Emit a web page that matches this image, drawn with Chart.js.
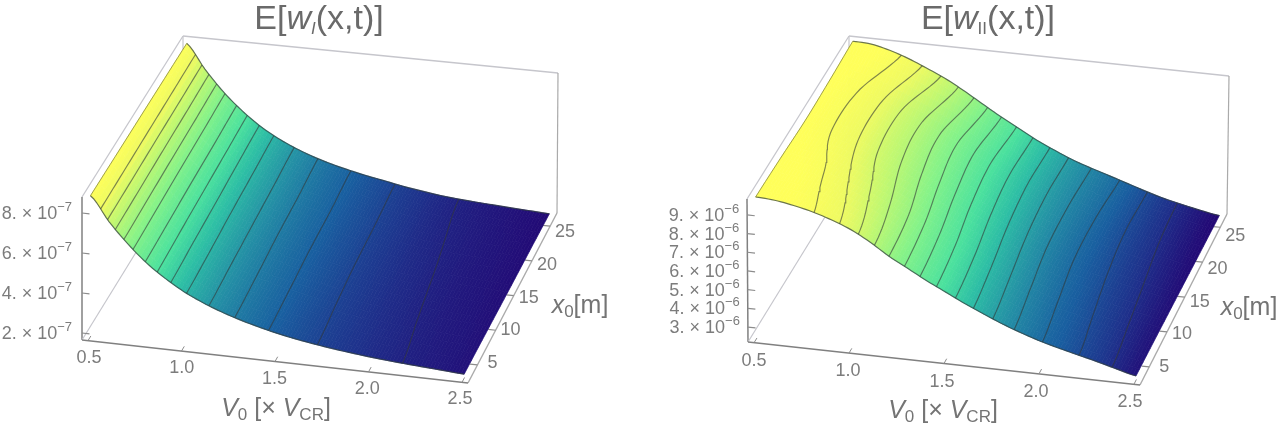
<!DOCTYPE html>
<html><head><meta charset="utf-8">
<style>
html,body{margin:0;padding:0;background:#fff;width:1280px;height:425px;overflow:hidden}
canvas{position:absolute;top:0;filter:blur(0.6px)}
#cI{left:0}#cII{left:640px}
</style>
<script src="https://cdn.jsdelivr.net/npm/chart.js@4"></script>
</head><body>
<canvas id="cI" width="640" height="425"></canvas>
<canvas id="cII" width="640" height="425"></canvas>
<script>
// ---- data ----
const v0Values = [0.5,0.6,0.7,0.8,0.9,1.0,1.1,1.2,1.3,1.4,1.5,1.6,1.7,1.8,1.9,2.0,2.1,2.2,2.3,2.4,2.5];
const x0Values = [3,9,15,21,26.4];
const v0Ticks = [0.5,1.0,1.5,2.0,2.5];
const x0Ticks = [5,10,15,20,25];

// E[w_I] in units of 1e-7, one list per x0
const wI_x3  = [8.7,7.5,6.5,5.65,4.98,4.42,3.98,3.62,3.32,3.07,2.85,2.67,2.52,2.39,2.28,2.18,2.1,2.03,1.97,1.91,1.85];
const wI_x9  = [8.68,7.48,6.46,5.61,4.93,4.38,3.94,3.58,3.29,3.04,2.83,2.65,2.49,2.36,2.24,2.15,2.07,2.0,1.94,1.89,1.83];
const wI_x15 = [8.66,7.45,6.42,5.57,4.89,4.33,3.9,3.54,3.25,3.01,2.8,2.63,2.46,2.33,2.21,2.12,2.04,1.97,1.91,1.86,1.8];
const wI_x21 = [8.64,7.43,6.39,5.54,4.84,4.29,3.86,3.51,3.22,2.99,2.78,2.61,2.44,2.3,2.17,2.08,2.01,1.95,1.89,1.84,1.78];
const wI_x26 = [8.62,7.4,6.35,5.5,4.8,4.25,3.82,3.47,3.19,2.96,2.76,2.59,2.41,2.27,2.14,2.05,1.98,1.92,1.86,1.81,1.76];
const wILevels = [8.1,7.6,7.15,6.7,6.25,5.7,5.25,4.8,4.35,3.85,3.4,2.95,2.5,2.05];
const wIZTicks = [2,4,6,8];

// E[w_II] in units of 1e-6, one list per x0
const wII_x3  = [9.78,9.72,9.55,9.32,9.0,8.6,8.05,7.4,6.85,6.3,5.8,5.3,4.85,4.42,4.05,3.72,3.45,3.2,2.95,2.68,2.43];
const wII_x9  = [9.72,9.58,9.4,9.05,8.7,8.28,7.8,7.28,6.72,6.18,5.68,5.18,4.72,4.3,3.94,3.62,3.36,3.1,2.86,2.62,2.4];
const wII_x15 = [9.62,9.42,9.12,8.78,8.35,7.95,7.5,7.02,6.5,5.98,5.5,5.02,4.58,4.18,3.83,3.52,3.26,3.0,2.78,2.56,2.36];
const wII_x21 = [9.68,9.45,9.18,8.78,8.32,7.88,7.38,6.88,6.38,5.88,5.4,4.94,4.52,4.16,3.82,3.5,3.2,2.94,2.71,2.49,2.31];
const wII_x26 = [9.78,9.73,9.5,9.17,8.75,8.3,7.75,7.15,6.55,6.0,5.45,4.98,4.55,4.2,3.88,3.55,3.22,2.92,2.68,2.46,2.28];
const wIILevels = [9.3,8.85,8.4,7.9,7.4,6.95,6.5,6.05,5.55,5.1,4.65,4.2,3.7,3.2,2.75];
const wIIZTicks = [3,4,5,6,7,8,9];

// ---- colour ramp ----
const ramp = [[0,35,5,115],[.08,30,50,140],[.17,25,95,160],[.28,35,140,165],[.4,45,190,165],[.5,75,225,158],[.65,130,242,138],[.8,195,248,112],[.9,238,250,98],[1,255,255,90]];
function colour(f){
  f=Math.max(0,Math.min(1,f));
  for(let i=1;i<ramp.length;i++){ if(f<=ramp[i][0]){
    const a=ramp[i-1],b=ramp[i],k=(f-a[0])/(b[0]-a[0]);
    return `rgb(${Math.round(a[1]+k*(b[1]-a[1]))},${Math.round(a[2]+k*(b[2]-a[2]))},${Math.round(a[3]+k*(b[3]-a[3]))})`;
  }}
  return 'rgb(255,255,90)';
}

// ---- helpers ----
function cr(a,s){
  const n=a.length-1, i=Math.min(n-1,Math.floor(s)), t=s-i;
  const p0=a[Math.max(0,i-1)],p1=a[i],p2=a[i+1],p3=a[Math.min(n,i+2)];
  return 0.5*((2*p1)+(-p0+p2)*t+(2*p0-5*p1+4*p2-p3)*t*t+(-p0+3*p1-3*p2+p3)*t*t*t);
}
function lin(a,s){const i=Math.min(a.length-2,Math.floor(s)),t=s-i;return a[i]+(a[i+1]-a[i])*t;}
function drawRuns(ctx,runs,x,y,align,color){
  ctx.save();ctx.textBaseline='alphabetic';ctx.textAlign='left';ctx.fillStyle=color;
  let w=0;
  for(const r of runs){ctx.font=`${r.i?'italic ':''}${r.s}px "Liberation Sans"`;w+=ctx.measureText(r.t).width;}
  let cx=align==='right'?x-w:align==='center'?x-w/2:x;
  for(const r of runs){ctx.font=`${r.i?'italic ':''}${r.s}px "Liberation Sans"`;ctx.fillText(r.t,cx,y+(r.d||0));cx+=ctx.measureText(r.t).width;}
  ctx.restore();
}

function panel(id,cfg){
  const rows=cfg.rows, nV=v0Values.length, nX=x0Values.length;
  const vMin=0.468,vMax=2.532,xMin=2.4,xMax=26.9,zMin=cfg.zMin,zMax=cfg.zMax;
  const g=cfg.geom;
  function project(V,X,Z){
    const u=(V-vMin)/(vMax-vMin),t=(X-xMin)/(xMax-xMin),w=(Z-zMin)/(zMax-zMin);
    const bi=(a,b,c,d,k)=>(a[k]*(1-u)+b[k]*u)*(1-t)+(c[k]*(1-u)+d[k]*u)*t;
    const bx=bi(g.fl,g.fr,g.bl,g.br,0),by=bi(g.fl,g.fr,g.bl,g.br,1);
    const tx=bi(g.tfl,g.tfr,g.tbl,g.tbr,0),ty=bi(g.tfl,g.tfr,g.tbl,g.tbr,1);
    return {x:bx+(tx-bx)*w,y:by+(ty-by)*w};
  }
  function zAt(si,sj){
    const col=[];for(let j=0;j<nX;j++)col.push(cr(rows[j],si));
    return cr(col,sj);
  }
  const vAt=si=>lin(v0Values,si), xAt=sj=>lin(x0Values,sj);

  const line=(label,pts,color,width,order)=>({label,data:pts,showLine:true,pointRadius:0,borderColor:color,borderWidth:width,fill:false,tension:0,order});
  const P=project, datasets=[];
  const E1='#c6c6cc',E2='#808080',E3='#aaaaaa';
  datasets.push(line('box',[P(vMin,xMin,zMin),P(vMax,xMin,zMin)],E2,1.5,20));
  datasets.push(line('box',[P(vMax,xMin,zMin),P(vMax,xMax,zMin)],E3,1.4,20));
  datasets.push(line('box',[P(vMin,xMin,zMin),P(vMin,xMax,zMin)],E1,1.2,20));
  datasets.push(line('box',[P(vMin,xMin,zMin),P(vMin,xMin,zMax)],E2,1.5,20));
  datasets.push(line('box',[P(vMin,xMax,zMin),P(vMin,xMax,zMax)],E1,1.2,20));
  datasets.push(line('box',[P(vMax,xMax,zMin),P(vMax,xMax,zMax)],E3,1.2,20));
  datasets.push(line('box',[P(vMin,xMax,zMax),P(vMax,xMax,zMax)],E1,1.3,20));
  datasets.push(line('box',[P(vMin,xMin,zMax),P(vMin,xMax,zMax)],E1,1.3,20));
  for(const v of v0Ticks)datasets.push(line('tick',[P(v,xMin,zMin),P(v,xMin+0.7,zMin)],'#8c8c8c',1,19));
  for(const x of x0Ticks)datasets.push(line('tick',[P(vMax,x,zMin),P(vMax-0.04,x,zMin)],'#8c8c8c',1.2,19));
  for(const z of cfg.zTicks)datasets.push(line('tick',[P(vMin,xMin,z),P(vMin+0.04,xMin,z)],'#8c8c8c',1.2,19));

  // surface nodes: painted as shaded cells by the plugin below
  const surfacePts=[];
  for(let j=0;j<nX;j++)for(let i=0;i<nV;i++)surfacePts.push(P(v0Values[i],x0Values[j],rows[j][i]));
  datasets.push({label:'surface',data:surfacePts,showLine:false,pointRadius:0,order:10});

  // contours
  const MJ=40;
  for(const lev of cfg.levels){
    const pts=[];
    for(let mj=0;mj<=MJ;mj++){
      const sj=mj/MJ*(nX-1);
      let prev=zAt(0,sj);
      for(let k=1;k<=400;k++){
        const si=k/400*(nV-1),cur=zAt(si,sj);
        if(prev>=lev&&cur<lev){
          const sf=(k-1+(prev-lev)/(prev-cur))/400*(nV-1);
          pts.push(P(vAt(sf),xAt(sj),lev));break;
        }
        prev=cur;
      }
    }
    datasets.push(line('contour',pts,'rgba(50,55,55,0.6)',1.15,5));
  }
  const edge=(fn,n)=>{const a=[];for(let k=0;k<=n;k++)a.push(fn(k/n));return a;};
  const OUT='rgba(45,60,60,0.7)';
  datasets.push(line('edge',edge(s=>{const si=s*(nV-1);return P(vAt(si),x0Values[0],zAt(si,0));},120),OUT,1.2,4));
  datasets.push(line('edge',edge(s=>{const si=s*(nV-1);return P(vAt(si),x0Values[nX-1],zAt(si,nX-1));},120),OUT,1.2,4));
  datasets.push(line('edge',edge(s=>{const sj=s*(nX-1);return P(v0Values[0],xAt(sj),zAt(0,sj));},20),'rgba(120,120,60,0.7)',1,4));

  const surfacePlugin={id:'surfacePaint',afterDatasetDraw(chart,args){
    if(chart.data.datasets[args.index].label!=='surface')return;
    const ctx=chart.ctx,sx=chart.scales.x,sy=chart.scales.y;
    const NI=120,NJ=24,grid=[];
    for(let j=0;j<=NJ;j++){const r=[];for(let i=0;i<=NI;i++){
      const si=i/NI*(nV-1),sj=j/NJ*(nX-1),z=zAt(si,sj),p=P(vAt(si),xAt(sj),z);
      r.push({x:sx.getPixelForValue(p.x),y:sy.getPixelForValue(p.y),z});
    }grid.push(r);}
    ctx.save();ctx.lineWidth=0.7;
    for(let j=NJ-1;j>=0;j--)for(let i=0;i<NI;i++){
      const a=grid[j][i],b=grid[j][i+1],c=grid[j+1][i+1],d=grid[j+1][i];
      const f=((a.z+b.z+c.z+d.z)/4-cfg.zLow)/(cfg.zHigh-cfg.zLow);
      const col=colour(f);
      ctx.fillStyle=col;ctx.strokeStyle=col;
      ctx.beginPath();ctx.moveTo(a.x,a.y);ctx.lineTo(b.x,b.y);ctx.lineTo(c.x,c.y);ctx.lineTo(d.x,d.y);ctx.closePath();ctx.fill();ctx.stroke();
    }
    ctx.restore();
  }};

  const textPlugin={id:'panelText',afterDraw(chart){
    const ctx=chart.ctx,sx=chart.scales.x,sy=chart.scales.y;
    const px=p=>({x:sx.getPixelForValue(p.x),y:sy.getPixelForValue(p.y)});
    const C='#7c7c7c';
    drawRuns(ctx,cfg.title,cfg.titleX,29,'center','#6a6a6a');
    for(const v of v0Ticks){const p=px(P(v,xMin,zMin));
      drawRuns(ctx,[{t:v.toFixed(1),s:18}],p.x+cfg.vOff[0]+cfg.vDrift*(v-0.5)/2,p.y+cfg.vOff[1]+6,'center',C);}
    for(const x of x0Ticks){const p=px(P(vMax,x,zMin));
      drawRuns(ctx,[{t:String(x),s:18}],p.x+cfg.xOff[0],p.y+cfg.xOff[1]+cfg.xDrift*(x-5)/20+6,'center',C);}
    for(const z of cfg.zTicks){const p=px(P(vMin,xMin,z));
      drawRuns(ctx,[{t:z+'. × 10',s:18},{t:'\u2212'+cfg.exp,s:13,d:-8}],p.x-cfg.zGap,p.y+6,'right',C);}
    drawRuns(ctx,[{t:'V',s:25,i:1},{t:'0',s:17,d:4},{t:' [× ',s:25},{t:'V',s:25,i:1},{t:'CR',s:17,d:4},{t:']',s:25}],cfg.vLabel[0],cfg.vLabel[1],'center','#747474');
    drawRuns(ctx,[{t:'x',s:25,i:1},{t:'0',s:17,d:4},{t:'[m]',s:25}],cfg.xLabel[0],cfg.xLabel[1],'center','#747474');
  }};

  new Chart(document.getElementById(id),{
    type:'scatter',
    data:{datasets},
    options:{responsive:false,animation:false,devicePixelRatio:1,
      layout:{padding:0},
      plugins:{legend:{display:false},tooltip:{enabled:false},title:{display:false}},
      scales:{x:{type:'linear',display:false,min:0,max:640},y:{type:'linear',display:false,min:0,max:425,reverse:true}}},
    plugins:[surfacePlugin,textPlugin]
  });
}

panel('cI',{
  rows:[wI_x3,wI_x9,wI_x15,wI_x21,wI_x26],levels:wILevels,zTicks:wIZTicks,exp:'7',
  zMin:1.65,zMax:8.8,zLow:1.7,zHigh:8.75,
  geom:{fl:[82,340],fr:[468,383],bl:[183,176],br:[557,213],tfl:[82,197],tfr:[468,240],tbl:[183,36],tbr:[558,73]},
  title:[{t:'E[',s:34},{t:'w',s:34,i:1},{t:'I',s:17,i:1,d:5},{t:'(x,t)]',s:34}],titleX:319,
  vOff:[1,16],vDrift:-3,xOff:[15,-3],xDrift:8,zGap:10,vLabel:[276,416],xLabel:[580,313]
});
panel('cII',{
  rows:[wII_x3,wII_x9,wII_x15,wII_x21,wII_x26],levels:wIILevels,zTicks:wIIZTicks,exp:'6',
  zMin:2.2,zMax:9.85,zLow:2.25,zHigh:9.6,
  geom:{fl:[108,342],fr:[500,385],bl:[209,178],br:[587,214],tfl:[107,199],tfr:[500,243],tbl:[209,36],tbr:[589,76]},
  title:[{t:'E[',s:34},{t:'w',s:34,i:1},{t:'II',s:17,d:5},{t:'(x,t)]',s:34}],titleX:348,
  vOff:[0,17],vDrift:-4,xOff:[15,-1],xDrift:9,zGap:8,vLabel:[303,418],xLabel:[609,315]
});
</script>
</body></html>
